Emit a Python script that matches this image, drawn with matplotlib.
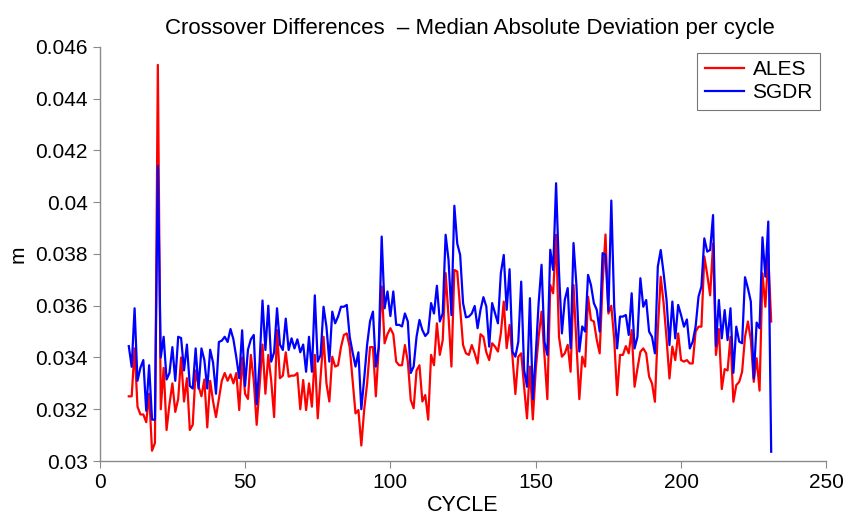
import numpy as np
from matplotlib import pyplot as plt
from matplotlib import font_manager

# pick a helvetica-like face if it is there
names = set(f.name for f in font_manager.fontManager.ttflist)
fam = ['Liberation Sans Narrow', 'Liberation Sans', 'DejaVu Sans']
fam = [f for f in fam if f in names] + ['DejaVu Sans']
plt.rcParams['font.family'] = fam

############################################
################# data #####################
############################################
cycle = np.arange(10, 232)

ales = [32.5, 32.5, 34.35, 32.1, 31.8, 31.8, 31.5, 32.6, 30.4, 30.7,
        45.3, 32.0, 33.6, 31.2, 32.2, 33.0, 31.9, 32.4, 34.0, 32.3,
        33.2, 31.2, 31.4, 33.5, 32.9, 32.5, 33.15, 31.3, 33.1, 32.3,
        31.7, 32.4, 33.1, 33.4, 33.1, 33.35, 33.0, 33.4, 31.97, 34.0,
        32.6, 32.4, 34.1, 33.1, 31.4, 32.9, 34.5, 32.6, 34.1, 33.1,
        31.7, 35.06, 33.2, 33.3, 34.2, 33.26, 33.3, 33.3, 33.4, 32.0,
        33.13, 31.97, 33.0, 32.1, 34.1, 31.65, 33.26, 34.8, 33.0, 32.3,
        34.03, 33.65, 33.7, 34.4, 34.87, 34.93, 34.4, 33.13, 31.84, 31.97,
        30.6, 32.0, 33.0, 34.4, 34.4, 32.5, 34.4, 36.74, 34.55, 34.9,
        35.13, 34.9, 33.84, 33.7, 33.7, 34.48, 33.84, 32.36, 32.04, 33.5,
        33.7, 32.3, 32.55, 31.6, 34.1, 33.7, 35.32, 34.1, 34.67, 37.26,
        35.58, 33.65, 37.38, 37.32, 35.9, 34.48, 34.16, 34.1, 34.48, 34.16,
        33.77, 34.9, 34.8, 34.2, 33.9, 34.55, 34.42, 34.23, 34.93, 36.16,
        34.36, 35.26, 34.03, 32.59, 34.03, 34.16, 32.87, 31.65, 33.65, 31.61,
        33.52, 34.8, 35.77, 34.1, 32.39, 36.8, 36.48, 38.74, 34.8, 34.03,
        34.16, 34.49, 33.45, 36.8, 34.55, 32.39, 34.03, 33.65, 36.35, 35.45,
        35.39, 34.68, 34.16, 36.86, 38.75, 35.7, 36.0, 34.7, 32.55, 34.1,
        34.1, 34.44, 34.16, 35.06, 32.87, 33.58, 34.22, 34.35, 34.16, 33.26,
        33.0, 32.29, 35.06, 37.12, 36.09, 34.74, 33.19, 34.42, 33.9, 34.93,
        33.9, 33.84, 33.9, 33.77, 33.77, 35.0, 35.19, 35.19, 37.9, 37.2,
        36.4, 38.4, 34.1, 35.1, 32.78, 33.55, 33.5, 34.8, 32.29, 32.93,
        33.06, 33.45, 34.8, 35.39, 34.67, 33.06, 33.97, 32.72, 37.25, 35.96,
        37.96, 35.39]

sgdr = [34.44, 33.64, 35.9, 33.1, 33.6, 33.9, 31.94, 33.7, 31.6, 31.6,
        41.4, 34.0, 34.8, 33.15, 33.4, 34.4, 33.1, 34.8, 34.75, 33.5,
        34.5, 32.9, 32.8, 34.35, 32.8, 34.35, 33.9, 32.8, 34.3, 33.8,
        32.6, 34.6, 34.65, 34.8, 34.6, 35.1, 34.7, 34.0, 33.2, 35.05,
        32.9, 34.3, 34.7, 34.87, 32.2, 33.8, 36.2, 34.29, 36.0, 33.84,
        34.2, 35.9, 34.5, 34.29, 35.5, 34.29, 34.74, 34.35, 34.7, 34.2,
        34.5, 33.45, 34.8, 33.45, 36.4, 33.84, 34.1, 35.96, 35.19, 33.84,
        35.77, 35.32, 35.58, 35.96, 35.96, 36.03, 34.8, 34.2, 33.65, 34.2,
        32.0, 33.2, 34.5, 35.4, 35.77, 33.65, 34.4, 38.67, 35.9, 36.55,
        35.6, 36.55, 35.26, 35.26, 35.2, 35.7, 35.39, 33.4, 33.65, 34.8,
        35.45, 35.06, 34.83, 34.96, 36.1, 35.7, 36.77, 35.39, 35.7, 38.74,
        37.77, 35.64, 39.86, 38.4, 37.96, 36.1, 35.55, 35.58, 35.7, 35.99,
        35.13, 35.84, 36.33, 35.97, 34.42, 36.1, 35.71, 35.32, 37.26, 37.96,
        35.84, 37.41, 34.23, 34.03, 34.6, 36.93, 33.52, 32.87, 36.29, 32.39,
        34.1, 36.1, 37.58, 34.6, 34.1, 38.16, 37.38, 40.73, 37.32, 34.93,
        36.23, 36.68, 34.36, 38.42, 36.8, 34.23, 35.2, 35.0, 37.19, 36.8,
        36.1, 35.84, 35.0, 38.03, 37.96, 35.8, 40.06, 35.96, 34.35, 35.58,
        35.58, 35.64, 34.87, 36.48, 34.35, 34.8, 37.06, 35.96, 36.22, 35.0,
        34.8, 34.16, 37.51, 38.15, 37.25, 36.22, 34.48, 36.16, 34.74, 36.03,
        35.64, 35.19, 35.47, 34.35, 34.61, 35.19, 36.35, 36.74, 38.6, 38.09,
        38.15, 39.5, 34.45, 36.22, 34.74, 35.83, 34.67, 35.9, 33.41, 35.19,
        34.61, 34.55, 37.1, 36.67, 36.16, 33.19, 35.35, 35.13, 38.64, 37.12,
        39.25, 30.36]

# values above are in mm, plot in m
ales = np.array(ales) / 1000.0
sgdr = np.array(sgdr) / 1000.0

xticks = [0, 50, 100, 150, 200, 250]
yticks = [0.03, 0.032, 0.034, 0.036, 0.038, 0.04, 0.042, 0.044, 0.046]
ytick_labels = ['0.03', '0.032', '0.034', '0.036', '0.038', '0.04', '0.042', '0.044', '0.046']

############################################
################# plot #####################
############################################
fig = plt.figure(figsize=(8.45, 5.14), dpi=100)
ax = fig.add_axes([0.118, 0.103, 0.86, 0.806])

ax.plot(cycle, ales, color='#ff0000', lw=1.6, label='ALES')
ax.plot(cycle, sgdr, color='#0000ff', lw=1.6, label='SGDR')

ax.set_xlim(0, 250)
ax.set_ylim(0.03, 0.046)
ax.set_xticks(xticks)
ax.set_yticks(yticks)
ax.set_yticklabels(ytick_labels)

for s in ['top', 'right']:
    ax.spines[s].set_visible(False)
for s in ['left', 'bottom']:
    ax.spines[s].set_color('#8a8a8a')
    ax.spines[s].set_linewidth(1.0)
ax.tick_params(direction='out', length=5, color='#8a8a8a', labelsize=15, labelcolor='black')

ax.set_xlabel('CYCLE', fontsize=15.5, labelpad=2)
ax.set_ylabel('m', fontsize=15, labelpad=6)
ax.set_title('Crossover Differences  \u2013 Median Absolute Deviation per cycle',
             fontsize=16, pad=9, x=0.51)

leg = ax.legend(loc='upper right', fontsize=15, fancybox=False, framealpha=1,
                edgecolor='#777777', handlelength=1.9, handletextpad=0.4,
                labelspacing=0.2, borderpad=0.35, borderaxespad=0.3)
leg.get_frame().set_linewidth(0.8)

plt.savefig('out.png', dpi=100)
